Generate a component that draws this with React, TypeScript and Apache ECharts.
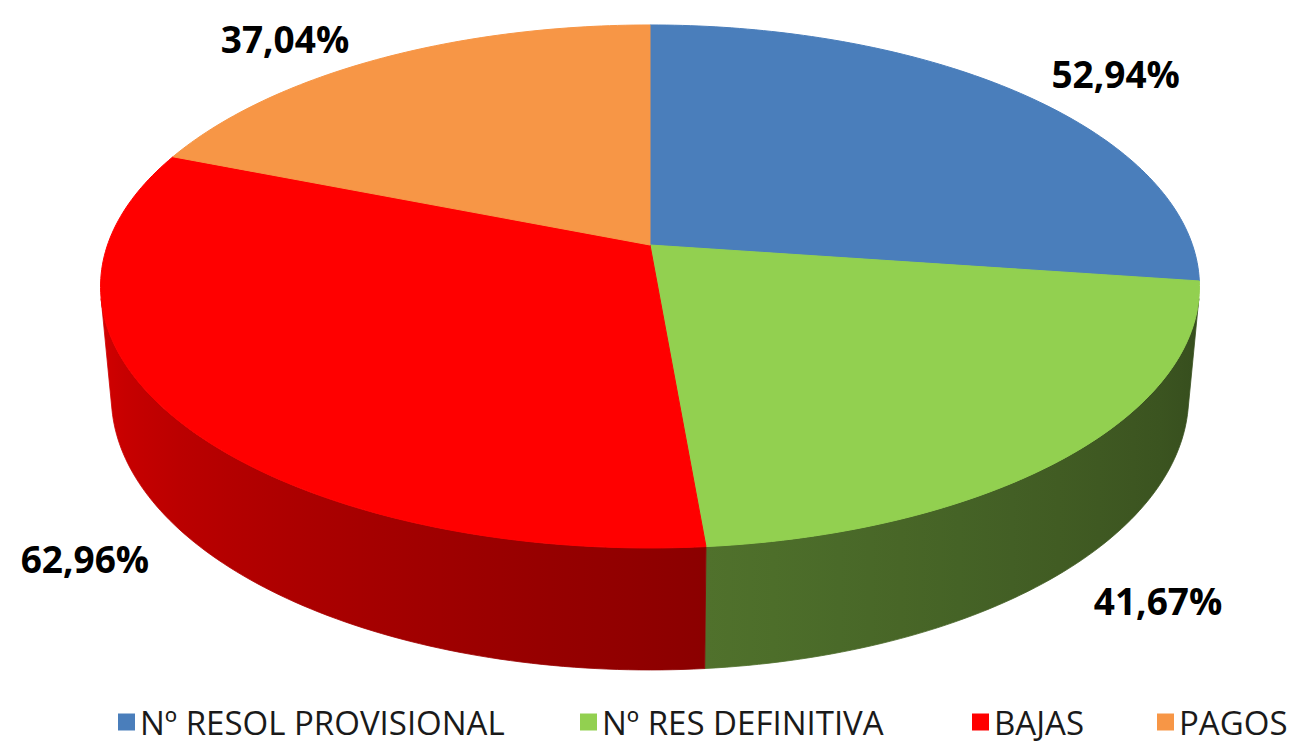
import React, { useEffect, useRef } from "react";
import * as echarts from "echarts";

// ---- data ----
const categories = ["Nº RESOL PROVISIONAL", "Nº RES DEFINITIVA", "BAJAS", "PAGOS"];
const values = [52.94, 41.67, 62.96, 37.04];

// ---- styles / layout ----
const colors = ["#4a7ebb", "#92d050", "#ff0000", "#f79646"];
const legendLeft = [113, 575, 967, 1152];
const PIE = { cx: 650, cy: 245, k: 542.5, sinA: 0.4699, cosA: 0.8827, d: 5.566, h: 0.2317 };
const LABEL_DX = 95;
const LABEL_DY_FAR = 20;
const LABEL_DY_NEAR = 29;

const total = values.reduce((a, b) => a + b, 0);
const starts: number[] = [];
{
  let c = 0;
  for (const v of values) {
    starts.push((360 * c) / total);
    c += v;
  }
}

function project(phiDeg: number, r: number, y: number): number[] {
  const p = (phiDeg * Math.PI) / 180;
  const X = r * Math.sin(p);
  const W = -r * Math.cos(p);
  const depth = PIE.d - W * PIE.cosA - y * PIE.sinA;
  const s = PIE.d / depth;
  return [PIE.cx + PIE.k * X * s, PIE.cy + PIE.k * (W * PIE.sinA - y * PIE.cosA) * s];
}

function arc(a: number, b: number, y: number): number[][] {
  const n = Math.max(2, Math.ceil(Math.abs(b - a)));
  const pts: number[][] = [];
  for (let i = 0; i <= n; i++) pts.push(project(a + ((b - a) * i) / n, 1, y));
  return pts;
}

const VIS = (Math.acos(-1 / (PIE.d * PIE.cosA)) * 180) / Math.PI;

function shade(hex: string, f: number): string {
  const n = parseInt(hex.slice(1), 16);
  const r = Math.round(((n >> 16) & 255) * f);
  const g = Math.round(((n >> 8) & 255) * f);
  const b = Math.round((n & 255) * f);
  return `rgb(${r},${g},${b})`;
}

function sideFactor(phi: number): number {
  const t = Math.min(1, Math.max(0, (phi - 100) / 160));
  return 0.37 + 0.47 * Math.pow(t, 1.3);
}

function fmt(v: number): string {
  return v.toFixed(2).replace(".", ",") + "%";
}

function makeRender(i: number) {
  return function renderItem(_params: any, api: any) {
    const v = api.value(0);
    const a0 = starts[i];
    const a1 = a0 + (360 * v) / total;
    const color = colors[i];
    const children: any[] = [];

    // side wall (only the part that faces the viewer)
    const s = Math.max(a0, VIS);
    const e = Math.min(a1, 360 - VIS);
    if (s < e) {
      const top = arc(s, e, 0);
      const bot = arc(e, s, -PIE.h);
      const xs = top.map((p) => p[0]).concat(bot.map((p) => p[0]));
      const xmin = Math.min(...xs);
      const xmax = Math.max(...xs);
      const stops: any[] = [];
      const n = 12;
      for (let j = n; j >= 0; j--) {
        const phi = s + ((e - s) * j) / n;
        const x = project(phi, 1, 0)[0];
        stops.push({ offset: Math.min(1, Math.max(0, (x - xmin) / (xmax - xmin))), color: shade(color, sideFactor(phi)) });
      }
      stops.sort((p, q) => p.offset - q.offset);
      const grad = { type: "linear", x: xmin, y: 0, x2: xmax, y2: 0, global: true, colorStops: stops };
      children.push({
        type: "polygon",
        z2: 1,
        shape: { points: top.concat(bot) },
        style: { fill: grad, stroke: grad, lineWidth: 0.8 },
      });
    }

    // top face
    const topPts = [project(0, 0, 0)].concat(arc(a0, a1, 0));
    children.push({
      type: "polygon",
      z2: 2,
      shape: { points: topPts },
      style: { fill: color, stroke: color, lineWidth: 1, lineJoin: "round" },
    });

    // label
    const m = (a0 + a1) / 2;
    const far = -Math.cos((m * Math.PI) / 180) < 0;
    const rim = project(m, 1, far ? 0 : -PIE.h);
    const sx = Math.sin((m * Math.PI) / 180) >= 0 ? 1 : -1;
    children.push({
      type: "text",
      z2: 3,
      x: rim[0] + sx * LABEL_DX,
      y: rim[1] + (far ? -LABEL_DY_FAR : LABEL_DY_NEAR),
      style: {
        text: fmt(v),
        fill: "#000000",
        font: "bold 37px 'Open Sans', sans-serif",
        align: "center",
        verticalAlign: "middle",
      },
    });

    return { type: "group", children };
  };
}

export default function App() {
  const ref = useRef<HTMLDivElement>(null);
  useEffect(() => {
    document.body.style.margin = "0";
    if (!ref.current) return;
    const chart = echarts.init(ref.current, null, { renderer: "svg" });
    chart.setOption({
      animation: false,
      backgroundColor: "#ffffff",
      legend: categories.map((c, i) => ({
        data: [c],
        left: legendLeft[i],
        top: 699,
        icon: "rect",
        itemWidth: 17,
        itemHeight: 17,
        selectedMode: false,
        textStyle: { fontFamily: "Open Sans", fontSize: 33, color: "#1a1a1a", lineHeight: 36 },
      })),
      series: categories.map((c, i) => ({
        type: "custom",
        name: c,
        coordinateSystem: "none",
        silent: true,
        itemStyle: { color: colors[i] },
        data: [[values[i]]],
        renderItem: makeRender(i),
      })),
    });
    return () => chart.dispose();
  }, []);
  return <div ref={ref} style={{ width: 1291, height: 744 }} />;
}
